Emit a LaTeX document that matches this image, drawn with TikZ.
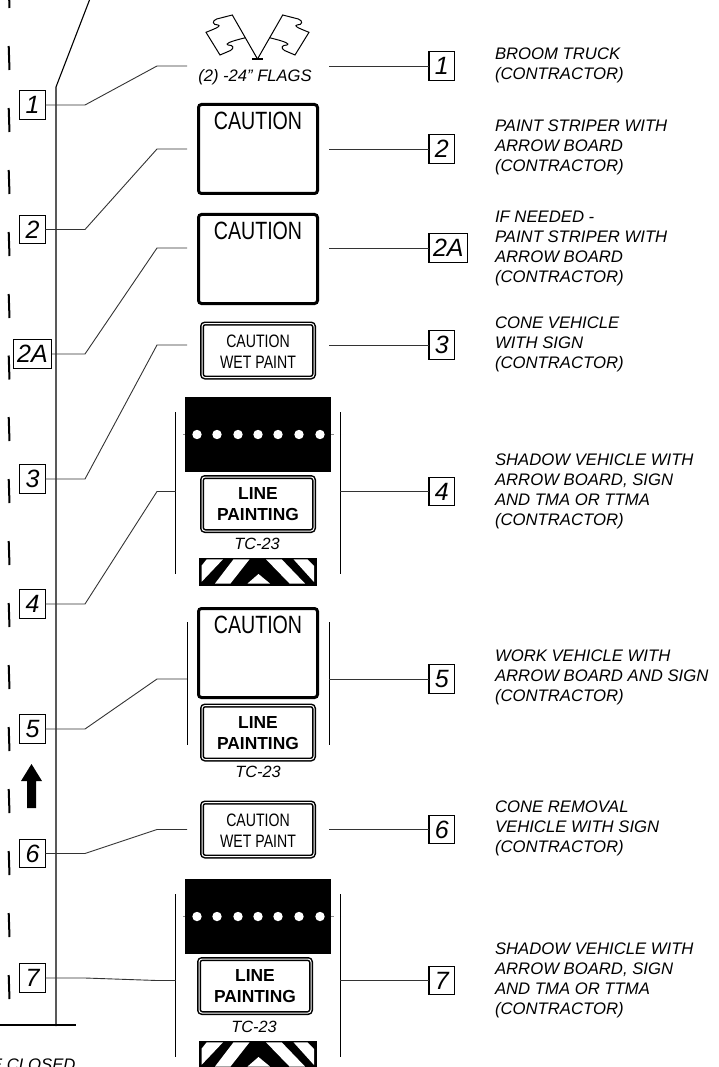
\documentclass[tikz,border=0pt]{standalone}
\usepackage{fontspec}
\setmainfont{Liberation Sans}
\newfontfamily\narrowfont[FakeStretch=0.784]{Liberation Sans}
\usetikzlibrary{positioning}

\begin{document}
\begin{tikzpicture}[x=1pt,y=-1pt,
  every node/.style = {inner sep=0pt, outer sep=0pt, align=center},
  tagbox/.style = {shape=rectangle, draw, line width=1.3pt, minimum width=25.5pt, minimum height=28.5pt,
    inner xsep=4pt, font=\itshape\fontsize{25}{25}\selectfont},
  leader/.style = {draw, black!80, line width=0.9pt},
  roadline/.style = {draw, line width=1.1pt},
  bracketline/.style = {draw, line width=1pt},
  desc/.style = {anchor=west, align=left, font=\itshape\fontsize{16.7}{20}\selectfont},
  tcname/.style = {font=\itshape\fontsize{16.3}{16}\selectfont},
  bigsign/.style = {shape=rectangle, draw, line width=3pt, rounded corners=3pt, minimum width=119pt, minimum height=89pt},
  bigword/.style = {font=\narrowfont\fontsize{25}{25}\selectfont},
  smallsign/.style = {shape=rectangle, draw, double=white, line width=1.5pt, double distance=1pt, rounded corners=3pt,
    minimum width=112pt, minimum height=54pt},
  wetword/.style = {font=\narrowfont\fontsize{18}{21}\selectfont},
  lineword/.style = {font=\bfseries\fontsize{17.4}{21}\selectfont},
  board/.style = {shape=rectangle, fill=black, minimum width=146pt, minimum height=75pt}
  ]
  \useasboundingbox (0,0) rectangle (719,1067);
  \clip (0,0) rectangle (719,1067);

  % road
  \draw[roadline] (89.5,0) -- (56,87) -- (56,1026);
  \draw[roadline] (0,1025) -- (76,1025);
  \foreach \dashy in {-16,46,108,170,232,294,355.5,417,479,541,603,665,727,789,851,913,975}{
    \draw[line width=2pt] (8.7,\dashy) -- (9.5,\dashy+24);
  }
  \fill (31.5,764) -- (42,781) -- (36,781) -- (36,808) -- (27,808) -- (27,781) -- (21,781) -- cycle;
  \node[anchor=base east, font=\itshape\fontsize{16.7}{20}\selectfont] (closedtext) at (75.5,1070) {E CLOSED};

  % flags
  \foreach \flagside in {1,-1}{
    \begin{scope}[xshift=257.5pt,xscale=\flagside]
      \draw[line width=1pt] (0,59) -- (-25.2,15) -- (-40.8,19) .. controls (-46,21) and (-45,25) .. (-39.5,25)
        .. controls (-37,26) and (-38,27) .. (-51.5,32.3) -- (-37.5,55) -- (-27,50.5)
        .. controls (-23,48) and (-24,45) .. (-29.5,45) .. controls (-32,44) and (-30,42) .. (-11.8,37.7);
    \end{scope}
  }
  \draw[line width=1.2pt] (252,59) -- (263,59);
  \node[font=\itshape\fontsize{16.6}{17}\selectfont] (flagtext) at (255,77) {(2) -24" FLAGS};

  % signs
  \node[bigsign] (sign2) at (258,149) {};
  \node[bigword] (sign2word) at (258,121) {CAUTION};
  \node[bigsign] (sign2A) at (258,259) {};
  \node[bigword] (sign2Aword) at (258,231) {CAUTION};
  \node[bigsign] (sign5) at (258,653) {};
  \node[bigword] (sign5word) at (258,625) {CAUTION};

  \node[smallsign] (sign3) at (258,350.5) {};
  \node[wetword] (sign3word) at (258,351.5) {CAUTION\\WET PAINT};
  \node[smallsign] (sign6) at (258,829.5) {};
  \node[wetword] (sign6word) at (258,831) {CAUTION\\WET PAINT};

  \node[smallsign] (sign4) at (258,504) {};
  \node[lineword] (sign4word) at (258,504.5) {LINE\\PAINTING};
  \node[tcname] (sign4name) at (257,544) {TC-23};
  \node[smallsign] (sign5low) at (258,732.5) {};
  \node[lineword] (sign5lowword) at (258,733) {LINE\\PAINTING};
  \node[tcname] (sign5name) at (258,772) {TC-23};
  \node[smallsign] (sign7) at (255,986) {};
  \node[lineword] (sign7word) at (255,986.5) {LINE\\PAINTING};
  \node[tcname] (sign7name) at (254,1027) {TC-23};

  % arrow boards
  \foreach \boardy in {434.5,916.5}{
    \draw[black!45, line width=0.8pt] (183,\boardy) -- (334,\boardy);
    \node[board] (board\boardy) at (258,\boardy) {};
    \foreach \lampx in {197,217,238,258,278,299,320}{
      \fill[white] (\lampx,\boardy) circle (4.7);
    }
  }

  % tma panels
  \foreach \paneloff in {0,483}{
    \begin{scope}[yshift=-\paneloff pt]
      \fill (199,558) rectangle (317,586);
      \fill[white] (206.7,559.3) -- (223,559.3) -- (201.7,581.7) -- (201.7,565.5) -- cycle;
      \fill[white] (233.5,559.3) -- (249.5,559.3) -- (230.5,583.5) -- (215,583.5) -- cycle;
      \fill[white] (258.5,574) -- (270,583.5) -- (247.5,583.5) -- cycle;
      \fill[white] (266,559.3) -- (281.7,559.3) -- (305,583.5) -- (289.5,583.5) -- cycle;
      \fill[white] (293.5,559.3) -- (307.5,559.3) -- (314,566) -- (314,582) -- cycle;
    \end{scope}
  }

  % brackets beside the vehicles
  \foreach \bracketx/\bracketa/\bracketb in {175.5/412/574,340.3/412/574,187/622/745,329/622/745,175.5/894/1057,340.3/894/1057}{
    \draw[bracketline] (\bracketx,\bracketa) -- (\bracketx,\bracketb);
  }

  % tags and leaders
  \foreach \tagname/\ya/\yb/\xa/\xb in {1/105/66/187/329, 2/229.5/149/187/329, 2A/354/248/187/329, 3/479/345/187/329,
      4/604/491.5/175.5/340.3, 5/729/679/187/329, 6/853.5/829.5/187/329, 7/978/980.5/175.5/340.3}{
    \node[tagbox] (left\tagname) at (32.5,\ya) {\tagname};
    \node[tagbox,anchor=west] (right\tagname) at (429,\yb) {\tagname};
    \coordinate (infrom\tagname) at (\xa,\yb);
    \coordinate (outfrom\tagname) at (\xb,\yb);
    \draw[leader] (left\tagname) -- (85,\ya) -- (157,\yb) -- (infrom\tagname);
    \draw[leader] (outfrom\tagname) -- (right\tagname);
  }

  % vehicle names
  \node[desc] (desc1) at (495,65) {BROOM TRUCK\\(CONTRACTOR)};
  \node[desc] (desc2) at (495,147) {PAINT STRIPER WITH\\ARROW BOARD\\(CONTRACTOR)};
  \node[desc] (desc2A) at (495,248) {IF NEEDED -\\PAINT STRIPER WITH\\ARROW BOARD\\(CONTRACTOR)};
  \node[desc] (desc3) at (495,344) {CONE VEHICLE\\WITH SIGN\\(CONTRACTOR)};
  \node[desc] (desc4) at (495,491) {SHADOW VEHICLE WITH\\ARROW BOARD, SIGN\\AND TMA OR TTMA\\(CONTRACTOR)};
  \node[desc] (desc5) at (495,677) {WORK VEHICLE WITH\\ARROW BOARD AND SIGN\\(CONTRACTOR)};
  \node[desc] (desc6) at (495,828) {CONE REMOVAL\\VEHICLE WITH SIGN\\(CONTRACTOR)};
  \node[desc] (desc7) at (495,980) {SHADOW VEHICLE WITH\\ARROW BOARD, SIGN\\AND TMA OR TTMA\\(CONTRACTOR)};
\end{tikzpicture}
\end{document}
